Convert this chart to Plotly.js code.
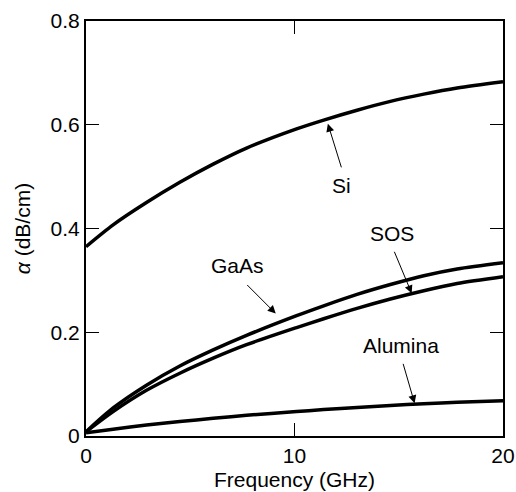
<!DOCTYPE html>
<html>
<head>
<meta charset="utf-8">
<script src="https://cdn.plot.ly/plotly-3.0.1.min.js"></script>
<style>html,body{margin:0;padding:0;background:#fff;}#chart{width:516px;height:492px;}</style>
</head>
<body>
<div id="chart"></div>
<script>
var freq = [0, 1.3, 2.9, 4.5, 6.1, 7.7, 10.1, 11.4, 13, 14.6, 16.2, 17.8, 20];
var si = [0.365, 0.407, 0.450, 0.489, 0.524, 0.555, 0.592, 0.609, 0.628, 0.645, 0.659, 0.671, 0.683];
var gaas = [0.008, 0.054, 0.098, 0.135, 0.166, 0.194, 0.232, 0.251, 0.273, 0.292, 0.309, 0.322, 0.334];
var sos = [0.008, 0.047, 0.088, 0.121, 0.150, 0.176, 0.209, 0.226, 0.246, 0.264, 0.280, 0.294, 0.307];
var alumina = [0.006, 0.013, 0.021, 0.028, 0.034, 0.040, 0.047, 0.051, 0.055, 0.059, 0.062, 0.065, 0.068];
var labels = ['Si', 'GaAs', 'SOS', 'Alumina'];
var xTicks = [0, 10, 20];
var yTicks = [0, 0.2, 0.4, 0.6, 0.8];
var yTickText = ['0', '0.2', '0.4', '0.6', '0.8'];

var font = 'Liberation Sans, Arial, sans-serif';
function tr(y, name) {
  return {x: freq, y: y, name: name, type: 'scatter', mode: 'lines',
    line: {color: '#000', width: 3.5, shape: 'spline', smoothing: 0.8}, hoverinfo: 'skip'};
}
var data = [tr(si, labels[0]), tr(gaas, labels[1]), tr(sos, labels[2]), tr(alumina, labels[3])];

var textPos = [[12.27, 0.483], [7.28, 0.328], [14.68, 0.391], [15.09, 0.175]];
var arrows = [
  {x: 11.6, y: 0.602, ax: 12.27, ay: 0.515},
  {x: 9.10, y: 0.236, ax: 7.66, ay: 0.294},
  {x: 15.62, y: 0.275, ax: 14.76, ay: 0.358},
  {x: 15.76, y: 0.063, ax: 15.19, ay: 0.142}
];
var ann = [];
labels.forEach(function (t, i) {
  ann.push({x: textPos[i][0], y: textPos[i][1], xref: 'x', yref: 'y', text: t, showarrow: false,
    font: {family: font, size: 21, color: '#000'}});
  var a = arrows[i];
  ann.push({x: a.x, y: a.y, xref: 'x', yref: 'y', axref: 'x', ayref: 'y', ax: a.ax, ay: a.ay,
    text: '', showarrow: true, arrowhead: 2, arrowsize: 1.6, arrowwidth: 1, arrowcolor: '#000', standoff: 0, startstandoff: 0});
});

var layout = {
  width: 516, height: 492,
  margin: {l: 86, r: 13, t: 21, b: 56, pad: 0},
  paper_bgcolor: '#fff', plot_bgcolor: '#fff',
  showlegend: false,
  font: {family: font, size: 21, color: '#000'},
  xaxis: {range: [0, 20], tickvals: xTicks, ticks: 'inside', ticklen: 13, tickwidth: 1, tickcolor: '#000',
    showline: true, linewidth: 2, linecolor: '#000', mirror: 'allticks', showgrid: false, zeroline: false,
    tickfont: {family: font, size: 21}, fixedrange: true,
    title: {text: 'Frequency (GHz)', font: {family: font, size: 21}, standoff: 6}},
  yaxis: {range: [0, 0.8], tickvals: yTicks, ticktext: yTickText, ticks: 'inside', ticklen: 13, tickwidth: 1, tickcolor: '#000',
    showline: true, linewidth: 2, linecolor: '#000', mirror: 'allticks', showgrid: false, zeroline: false,
    tickfont: {family: font, size: 21}, fixedrange: true,
    title: {text: '<i>α</i> (dB/cm)', font: {family: font, size: 21}, standoff: 14}},
  annotations: ann
};
Plotly.newPlot('chart', data, layout, {displayModeBar: false, staticPlot: true});
</script>
</body>
</html>
